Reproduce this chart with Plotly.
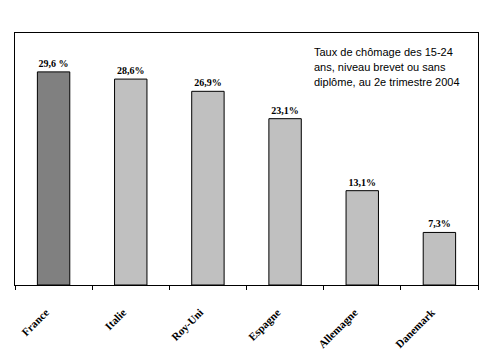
import plotly.graph_objects as go

pays = ["France", "Italie", "Roy-Uni", "Espagne", "Allemagne", "Danemark"]
taux = [29.6, 28.6, 26.9, 23.1, 13.1, 7.3]
etiquettes = ["29,6 %", "28,6%", "26,9%", "23,1%", "13,1%", "7,3%"]
couleurs = ["#808080", "#C0C0C0", "#C0C0C0", "#C0C0C0", "#C0C0C0", "#C0C0C0"]
note = ["Taux de chômage des 15-24", "ans, niveau brevet ou sans", "diplôme, au 2e trimestre 2004"]

fig = go.Figure(go.Bar(
    x=pays, y=taux, text=etiquettes, textposition="outside",
    textfont=dict(family="Liberation Serif", size=10, color="black", weight="bold"),
    marker=dict(color=couleurs, line=dict(color="black", width=1)),
    width=0.42, cliponaxis=False, hoverinfo="skip",
))

for i, ligne in enumerate(note):
    fig.add_annotation(
        x=0.642, y=0.958 - i * 0.06, xref="paper", yref="paper",
        xanchor="left", yanchor="top", showarrow=False, text=ligne,
        font=dict(family="Liberation Sans", size=11, color="black"),
    )

fig.update_layout(
    width=489, height=354, margin=dict(l=7, r=19, t=25, b=77, autoexpand=False),
    paper_bgcolor="white", plot_bgcolor="white", showlegend=False,
    xaxis=dict(
        showline=True, linecolor="black", linewidth=1, mirror=True,
        ticks="outside", ticklen=4, tickcolor="black", tickson="boundaries",
        tickangle=-45, showgrid=False, automargin=False, ticklabelstandoff=8,
        tickmode="array", tickvals=pays,
        ticktext=[p + "\u00a0\u00a0\u00a0\u00a0" for p in pays],
        tickfont=dict(family="Liberation Serif", size=11, color="black", weight="bold"),
    ),
    yaxis=dict(
        range=[0, 35], showline=True, linecolor="black", linewidth=1, mirror=True,
        showticklabels=False, showgrid=False, zeroline=False, ticks="", automargin=False,
    ),
)

fig.write_html("out.html")
